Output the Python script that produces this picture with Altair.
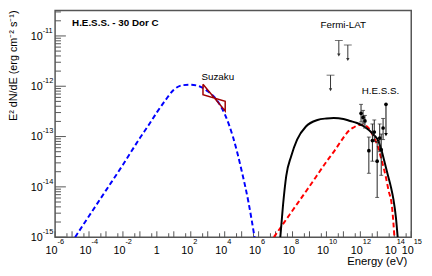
import altair as alt
import pandas as pd

# ---------------- data (log10 values) ----------------
# synchrotron model (blue dashed)
sync_log_e = [-4.82, -4.0, -3.0, -2.0, -1.0, -0.5, 0.0, 0.5, 1.0, 1.5, 2.0, 2.5, 3.0, 3.5, 4.0, 4.5, 5.0, 5.4, 5.76]
sync_log_f = [-15.0, -14.58, -14.07, -13.56, -13.03, -12.78, -12.52, -12.28, -12.07, -11.98, -11.97, -12.0, -12.1, -12.26, -12.55, -13.02, -13.68, -14.3, -15.0]

# total inverse-Compton model (black solid)
ic_log_e = [7.28, 7.44, 7.63, 7.92, 8.27, 8.79, 9.47, 10.0, 10.43, 11.0, 11.4, 11.8, 12.17, 12.5, 12.8, 13.0, 13.2, 13.4, 13.6, 13.8, 13.95, 14.1, 14.2]
ic_log_f = [-15.0, -14.36, -13.78, -13.39, -13.06, -12.8, -12.67, -12.64, -12.63, -12.65, -12.69, -12.73, -12.79, -12.87, -12.97, -13.05, -13.22, -13.47, -13.74, -14.0, -14.25, -14.62, -15.0]

# second IC component (red dashed)
ic2_log_e = [6.9, 7.5, 8.0, 9.0, 10.0, 10.5, 10.92, 11.34, 11.6, 11.92, 12.2, 12.45, 12.7, 13.0, 13.27, 13.5, 13.66, 13.86, 14.01]
ic2_log_f = [-15.0, -14.71, -14.47, -13.99, -13.5, -13.27, -13.06, -12.88, -12.82, -12.77, -12.77, -12.82, -12.95, -13.17, -13.49, -13.8, -14.07, -14.38, -15.0]

# Suzaku bowtie
bow_log_e = [2.72, 4.03, 4.03, 2.72, 2.72]
bow_log_f = [-11.96, -12.49, -12.30, -12.17, -11.96]

# Fermi-LAT upper limits
fermi_log_e = [10.24, 10.73, 11.26]
fermi_log_f = [-11.78, -11.09, -11.18]

# H.E.S.S. points
hess_log_e = [12.04, 12.16, 12.27, 12.50, 12.71, 12.82, 12.99, 13.14, 13.23, 13.34]
hess_log_f = [-12.54, -12.62, -12.69, -13.28, -13.08, -12.91, -13.49, -13.03, -13.26, -12.83]
hess_log_lo = [-12.71, -12.75, -12.83, -13.73, -13.49, -13.10, -14.21, -13.30, -13.77, -13.06]
hess_log_hi = [-12.36, -12.48, -12.58, -13.01, -12.75, -12.67, -13.10, -12.75, -12.95, -12.64]
hess_ul_log_e = [13.51]
hess_ul_log_f = [-12.36]

# axis labels
x_label_exps = [-6, -4, -2, 0, 2, 4, 6, 8, 10, 12, 14, 15]
y_label_exps = [-15, -14, -13, -12, -11]

# ---------------- layout ----------------
W, H = 363, 231
FERMI_ARROW_DEX = 0.29
HESS_ARROW_DEX = 0.60
FONT = "Liberation Sans"

xs = alt.Scale(type="log", domain=[1e-6, 1e15], nice=False)
ys = alt.Scale(type="log", domain=[1e-15, 3.2e-11], nice=False)
X = alt.X("E:Q", scale=xs, axis=None)
Y = alt.Y("F:Q", scale=ys, axis=None)
Y2 = alt.Y2("F2:Q")


def curve(le, lf):
    return pd.DataFrame({"E": [10 ** v for v in le], "F": [10 ** v for v in lf], "i": list(range(len(le)))})


df_sync = curve(sync_log_e, sync_log_f)
df_ic = curve(ic_log_e, ic_log_f)
df_ic2 = curve(ic2_log_e, ic2_log_f)
df_bow = curve(bow_log_e, bow_log_f)

df_fermi = pd.DataFrame({
    "E": [10 ** v for v in fermi_log_e],
    "F": [10 ** v for v in fermi_log_f],
    "F2": [10 ** (v - FERMI_ARROW_DEX) for v in fermi_log_f],
})
df_hess = pd.DataFrame({
    "E": [10 ** v for v in hess_log_e],
    "F": [10 ** v for v in hess_log_f],
    "lo": [10 ** v for v in hess_log_lo],
    "hi": [10 ** v for v in hess_log_hi],
})
df_hess_ul = pd.DataFrame({
    "E": [10 ** v for v in hess_ul_log_e],
    "F": [10 ** v for v in hess_ul_log_f],
    "F2": [10 ** (v - HESS_ARROW_DEX) for v in hess_ul_log_f],
})

line_sync = alt.Chart(df_sync).mark_line(color="#0000ff", strokeDash=[5, 3], strokeWidth=2, interpolate="monotone", clip=True).encode(x=X, y=Y, order="i:Q")
line_ic2 = alt.Chart(df_ic2).mark_line(color="#ff0000", strokeDash=[5, 3], strokeWidth=2, interpolate="monotone", clip=True).encode(x=X, y=Y, order="i:Q")
line_ic = alt.Chart(df_ic).mark_line(color="#000000", strokeWidth=2, interpolate="monotone", clip=True).encode(x=X, y=Y, order="i:Q")
bowtie = alt.Chart(df_bow).mark_line(color="#a00000", strokeWidth=1.5).encode(x=X, y=Y, order="i:Q")

ULC = "#333333"
fermi_rule = alt.Chart(df_fermi).mark_rule(color=ULC, strokeWidth=1).encode(x=X, y=Y, y2=Y2)
fermi_cap = alt.Chart(df_fermi).mark_tick(orient="horizontal", size=8, thickness=1, color=ULC).encode(x=X, y=Y)
fermi_head = alt.Chart(df_fermi).mark_point(shape="triangle-down", filled=True, size=12, color=ULC, opacity=1).encode(x=X, y=alt.Y("F2:Q", scale=ys, axis=None))

hess_err = alt.Chart(df_hess).mark_rule(color="#222222", strokeWidth=1).encode(x=X, y=alt.Y("lo:Q", scale=ys, axis=None), y2="hi:Q")
hess_cap_lo = alt.Chart(df_hess).mark_tick(orient="horizontal", size=4, thickness=1, color="#222222").encode(x=X, y=alt.Y("lo:Q", scale=ys, axis=None))
hess_cap_hi = alt.Chart(df_hess).mark_tick(orient="horizontal", size=4, thickness=1, color="#222222").encode(x=X, y=alt.Y("hi:Q", scale=ys, axis=None))
hess_pts = alt.Chart(df_hess).mark_point(shape="circle", filled=True, size=14, color="#000000", opacity=1).encode(x=X, y=Y)

hul_rule = alt.Chart(df_hess_ul).mark_rule(color="#000000", strokeWidth=1).encode(x=X, y=Y, y2=Y2)
hul_pt = alt.Chart(df_hess_ul).mark_point(shape="circle", filled=True, size=14, color="#000000", opacity=1).encode(x=X, y=Y)
hul_head = alt.Chart(df_hess_ul).mark_point(shape="triangle-down", filled=True, size=14, color="#000000", opacity=1).encode(x=X, y=alt.Y("F2:Q", scale=ys, axis=None))

# ---------------- axis ticks (drawn inward, ROOT style) ----------------
TC = "#555555"
df_xmaj = pd.DataFrame({"E": [10.0 ** k for k in range(-6, 16)]})
df_xmin = pd.DataFrame({"E": [5 * 10.0 ** k for k in range(-6, 15)]})
ymaj_vals = [10.0 ** k for k in range(-15, -10)]
ymin_vals = [m * 10.0 ** k for k in range(-15, -11) for m in range(2, 10)] + [2e-11, 3e-11]
df_ymaj = pd.DataFrame({"F": ymaj_vals})
df_ymin = pd.DataFrame({"F": ymin_vals})

xmaj = alt.Chart(df_xmaj).mark_rule(color=TC, strokeWidth=1).encode(x=X, y=alt.value(H), y2=alt.value(H - 6))
xmin = alt.Chart(df_xmin).mark_rule(color=TC, strokeWidth=1).encode(x=X, y=alt.value(H), y2=alt.value(H - 4))
ymaj = alt.Chart(df_ymaj).mark_rule(color=TC, strokeWidth=1).encode(y=Y, x=alt.value(0), x2=alt.value(11))
ymin = alt.Chart(df_ymin).mark_rule(color=TC, strokeWidth=1).encode(y=Y, x=alt.value(0), x2=alt.value(6))

# ---------------- tick labels ----------------
df_xl = pd.DataFrame({
    "E": [10.0 ** k for k in x_label_exps if k != 0],
    "base": ["10" for k in x_label_exps if k != 0],
    "exp": [str(k) for k in x_label_exps if k != 0],
})
df_x1 = pd.DataFrame({"E": [1.0], "base": ["1"]})
df_yl = pd.DataFrame({
    "F": [10.0 ** k for k in y_label_exps],
    "base": ["10" for k in y_label_exps],
    "exp": [str(k) for k in y_label_exps],
})

xl_base = alt.Chart(df_xl).mark_text(align="right", baseline="alphabetic", fontSize=11, font=FONT, color="#000", dx=2.5, dy=17).encode(x=X, y=alt.value(H), text="base:N")
xl_exp = alt.Chart(df_xl).mark_text(align="left", baseline="alphabetic", fontSize=7.5, font=FONT, color="#000", dx=2.5, dy=7).encode(x=X, y=alt.value(H), text="exp:N")
xl_one = alt.Chart(df_x1).mark_text(align="center", baseline="alphabetic", fontSize=11, font=FONT, color="#000", dy=17).encode(x=X, y=alt.value(H), text="base:N")
yl_base = alt.Chart(df_yl).mark_text(align="right", baseline="alphabetic", fontSize=11, font=FONT, color="#000", dx=-12.7, dy=4).encode(y=Y, x=alt.value(0), text="base:N")
yl_exp = alt.Chart(df_yl).mark_text(align="left", baseline="alphabetic", fontSize=7.5, font=FONT, color="#000", dx=-12.7, dy=-3.3).encode(y=Y, x=alt.value(0), text="exp:N")

# ---------------- titles / annotations ----------------
def label(txt, x, y, size=10, align="center", weight="normal", angle=0):
    kw = dict(align=align, baseline="alphabetic", fontSize=size, font=FONT, color="#000", fontWeight=weight)
    if angle:
        kw["angle"] = angle
    return alt.Chart(pd.DataFrame({"t": [txt]})).mark_text(**kw).encode(x=alt.value(x), y=alt.value(y), text="t:N")

title = label("H.E.S.S. - 30 Dor C", 17.3, 15.5, size=10, align="left", weight="bold")
suz = label("Suzaku", 165.8, 70.5)
fermi_t = label("Fermi-LAT", 293.7, 18)
hess_t = label("H.E.S.S.", 331.7, 85)
xtitle = label("Energy (eV)", 359, 259, size=11.5, align="right")
ytitle = label("E² dN/dE (erg cm⁻² s⁻¹)", -38.5, 0, size=11, align="right", angle=270)

chart = alt.layer(
    xmin, xmaj, ymin, ymaj,
    line_sync, line_ic2, line_ic, bowtie,
    fermi_rule, fermi_cap, fermi_head,
    hess_err, hess_cap_lo, hess_cap_hi, hess_pts,
    hul_rule, hul_pt, hul_head,
    xl_base, xl_exp, xl_one, yl_base, yl_exp,
    title, suz, fermi_t, hess_t, xtitle, ytitle,
).properties(
    width=W, height=H,
    autosize=alt.AutoSizeParams(type="none"),
    padding={"left": 48, "top": 0, "right": 13, "bottom": 37},
    background="white",
).configure_view(stroke="#555555", strokeWidth=1.5)

chart.save("out.html", embed_options={"renderer": "svg", "actions": False})
